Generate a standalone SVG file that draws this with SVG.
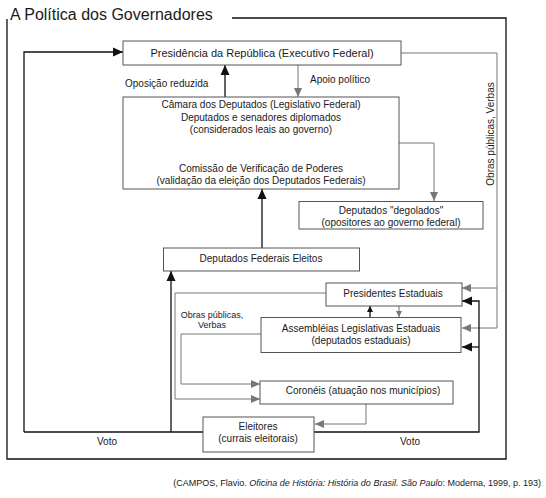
<svg xmlns="http://www.w3.org/2000/svg" width="546" height="498" viewBox="0 0 546 498">
<style>
text{font-family:"Liberation Sans",Arial,sans-serif;fill:#1a1a1a;font-size:10px}
.c{text-anchor:middle}
.box{fill:#fff;stroke:#555;stroke-width:1}
.k{fill:none;stroke:#111;stroke-width:1.3}
.g{fill:none;stroke:#777;stroke-width:1}
</style>
<defs>
<marker id="ak" markerUnits="userSpaceOnUse" markerWidth="10" markerHeight="10" refX="10" refY="5" orient="auto"><path d="M0,0.5 L10,5 L0,9.5z" fill="#111"/></marker>
<marker id="ag" markerUnits="userSpaceOnUse" markerWidth="9" markerHeight="9" refX="9" refY="4.5" orient="auto"><path d="M0,0.5 L9,4.5 L0,8.5z" fill="#777"/></marker>
<marker id="sk" markerUnits="userSpaceOnUse" markerWidth="6" markerHeight="6" refX="6" refY="3" orient="auto"><path d="M0,0 L6,3 L0,6z" fill="#111"/></marker>
<marker id="sg" markerUnits="userSpaceOnUse" markerWidth="6" markerHeight="6" refX="6" refY="3" orient="auto"><path d="M0,0 L6,3 L0,6z" fill="#777"/></marker>
</defs>
<rect width="546" height="498" fill="#fff"/>
<text x="10" y="20" style="font-size:16px">A Política dos Governadores</text>
<path d="M232,18 H506 V459 H7 V19" fill="none" stroke="#111" stroke-width="1.3"/>

<g id="connectors">
<path class="k" d="M24,432 V52 H123" marker-end="url(#ak)"/>
<path class="k" d="M225,97 V65" marker-end="url(#ak)"/>
<path class="g" d="M298,65 V97" marker-end="url(#ag)"/>
<path class="k" d="M262,165 V151" marker-end="url(#ak)"/>
<path class="k" d="M262,248 V189" marker-end="url(#ak)"/>
<path class="g" d="M399,143 H434 V201" marker-end="url(#ag)"/>
<path class="g" d="M401,53 H497 V328 H462" marker-end="url(#ag)"/>
<path class="g" d="M497,288 H462" marker-end="url(#ag)"/>
<path class="k" d="M24,432 H203"/>
<path class="k" d="M171,432 V271" marker-end="url(#ak)"/>
<path class="k" d="M314,432 H479 V301 H462" marker-end="url(#ak)"/>
<path class="k" d="M479,347 H462" marker-end="url(#ak)"/>
<path class="g" d="M326,293 H175 V399 H260" marker-end="url(#ag)"/>
<path class="g" d="M261,334 H181 V384 H260" marker-end="url(#ag)"/>
<path class="g" d="M366,404 V424 H315" marker-end="url(#ag)"/>
<path class="k" d="M370,317 V306" stroke-width="1" marker-end="url(#sk)"/>
<path class="g" d="M399,306 V317" marker-end="url(#sg)"/>
</g>

<g id="presidencia">
<rect class="box" x="123" y="41" width="278" height="24"/>
<text class="c" x="262" y="57" style="font-size:11px">Presidência da República (Executivo Federal)</text>
</g>
<g id="label-oposicao"><text x="125" y="87">Oposição reduzida</text></g>
<g id="label-apoio"><text x="310" y="83">Apoio político</text></g>
<g id="camara">
<rect class="box" x="123" y="97" width="276" height="92"/>
<text class="c" x="261" y="108">Câmara dos Deputados (Legislativo Federal)</text>
<text class="c" x="261" y="120.5">Deputados e senadores diplomados</text>
<text class="c" x="261" y="133">(considerados leais ao governo)</text>
<text class="c" x="261" y="172">Comissão de Verificação de Poderes</text>
<text class="c" x="261" y="184">(validação da eleição dos Deputados Federais)</text>
</g>
<g id="degolados">
<rect class="box" x="299" y="201.5" width="184" height="27.5"/>
<text class="c" x="391" y="214">Deputados "degolados"</text>
<text class="c" x="391" y="226">(opositores ao governo federal)</text>
</g>
<g id="label-obras-direita"><text class="c" transform="translate(494,134) rotate(-90)">Obras públicas, Verbas</text></g>
<g id="deputados-eleitos">
<rect class="box" x="163.5" y="248" width="196" height="23"/>
<text class="c" x="261" y="262">Deputados Federais Eleitos</text>
</g>
<g id="presidentes">
<rect class="box" x="326" y="283" width="136" height="23"/>
<text class="c" x="393" y="297">Presidentes Estaduais</text>
</g>
<g id="label-obras-esquerda">
<text class="c" x="212" y="318" style="font-size:9px">Obras públicas,</text>
<text class="c" x="212" y="328" style="font-size:9px">Verbas</text>
</g>
<g id="assembleias">
<rect class="box" x="261" y="317.5" width="200" height="35"/>
<text class="c" x="361" y="332">Assembléias Legislativas Estaduais</text>
<text class="c" x="361" y="344">(deputados estaduais)</text>
</g>
<g id="coroneis">
<rect class="box" x="260" y="381" width="193" height="23"/>
<text class="c" x="363" y="394">Coronéis (atuação nos municípios)</text>
</g>
<g id="eleitores">
<rect class="box" x="203" y="417" width="111" height="35"/>
<text class="c" x="258" y="430">Eleitores</text>
<text class="c" x="258" y="442">(currais eleitorais)</text>
</g>
<g id="label-voto">
<text class="c" x="107" y="445">Voto</text>
<text class="c" x="410" y="445">Voto</text>
</g>
<text x="541" y="486" style="font-size:9px;text-anchor:end">(CAMPOS, Flavio. <tspan font-style="italic">Oficina de História: História do Brasil. São Paulo</tspan>: Moderna, 1999, p. 193)</text>
</svg>
